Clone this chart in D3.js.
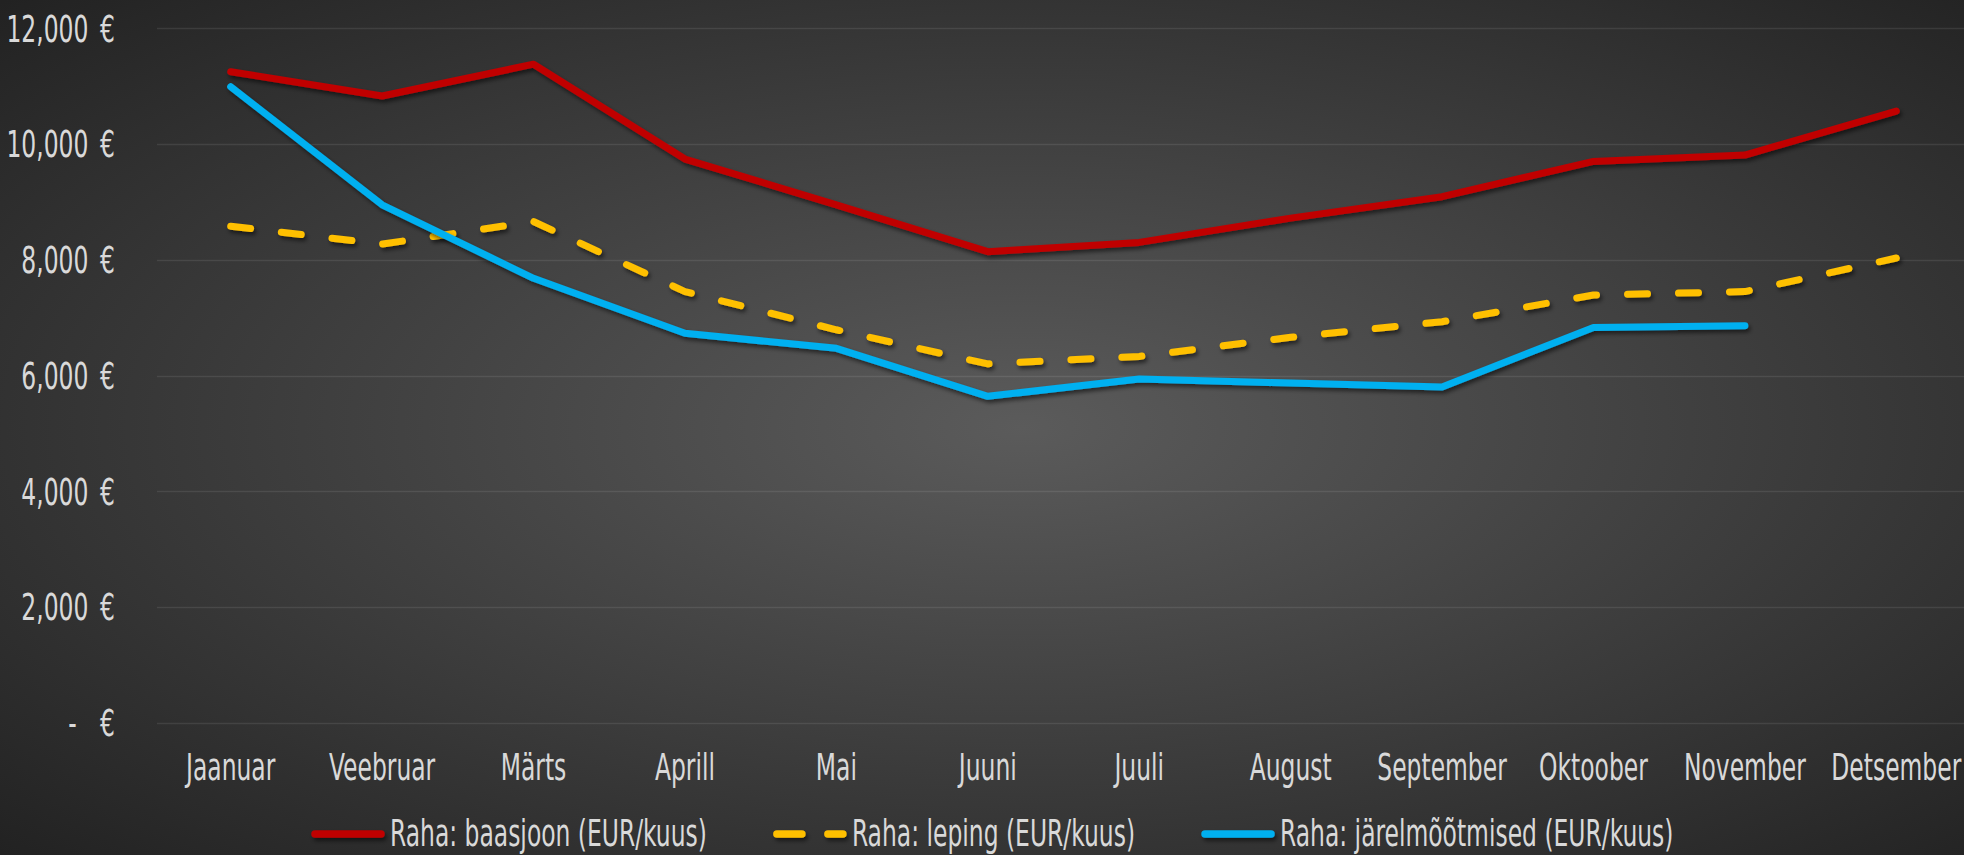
<!DOCTYPE html>
<html>
<head>
<meta charset="utf-8">
<script src="https://cdn.jsdelivr.net/npm/d3@7"></script>
<style>
  html, body { margin: 0; padding: 0; background: #2b2b2b; overflow: hidden; }
  svg { display: block; }
  text { fill: #d9d9d9; font-family: "Liberation Sans Narrow", "DejaVu Sans Condensed", "Roboto", sans-serif; }
</style>
</head>
<body>
<div id="chart"></div>
<script>
// Andmed
const months = ["Jaanuar", "Veebruar", "Märts", "Aprill", "Mai", "Juuni", "Juuli", "August", "September", "Oktoober", "November", "Detsember"];
const baasjoon = [11250, 10830, 11380, 9740, 8950, 8140, 8300, 8720, 9090, 9700, 9810, 10570];
const leping = [8580, 8270, 8660, 7450, 6790, 6200, 6330, 6660, 6930, 7390, 7450, 8030];
const jarelmootmised = [10990, 8950, 7680, 6730, 6470, 5640, 5940, 5870, 5800, 6830, 6860, null];
const seriesNames = ["Raha: baasjoon (EUR/kuus)", "Raha: leping (EUR/kuus)", "Raha: järelmõõtmised (EUR/kuus)"];
const seriesColors = ["#c00000", "#ffc000", "#00b0f0"];
const yTicks = [0, 2000, 4000, 6000, 8000, 10000, 12000];

const width = 1964;
const height = 855;
const fontSize = 37;

document.fonts.ready.then(draw);

function draw() {
    const svg = d3.select("#chart")
        .append("svg")
        .attr("width", width)
        .attr("height", height);

    const defs = svg.append("defs");

    // Taust: radiaalne gradient
    const grad = defs.append("radialGradient")
        .attr("id", "bg")
        .attr("cx", "0.52").attr("cy", "0.5")
        .attr("r", "0.72");
    grad.append("stop").attr("offset", "0").attr("stop-color", "#5b5b5b");
    grad.append("stop").attr("offset", "1").attr("stop-color", "#222222");

    // Vari - userSpaceOnUse, et ka horisontaalsed jooned saaksid varju
    const shadow = defs.append("filter")
        .attr("id", "shadow")
        .attr("filterUnits", "userSpaceOnUse")
        .attr("x", 0).attr("y", 0)
        .attr("width", width).attr("height", height);
    shadow.append("feDropShadow")
        .attr("dx", 2).attr("dy", 3)
        .attr("stdDeviation", 2)
        .attr("flood-color", "#000")
        .attr("flood-opacity", 0.55);

    svg.append("rect")
        .attr("width", width)
        .attr("height", height)
        .attr("fill", "url(#bg)");

    // Mõõda fondi laius, et tekst oleks kitsas nagu originaalis
    const probe = svg.append("text")
        .style("font-size", fontSize + "px")
        .text(seriesNames[0]);
    const kx = 317 / probe.node().getComputedTextLength();
    probe.remove();

    const x = d3.scalePoint()
        .domain(months)
        .range([155, 1972])
        .padding(0.5);

    const y = d3.scaleLinear()
        .domain([0, 12000])
        .range([722.7, 28.3]);

    // Ruudustik
    svg.append("g")
        .selectAll("line")
        .data(yTicks)
        .join("line")
        .attr("x1", 157)
        .attr("x2", width)
        .attr("y1", d => Math.round(y(d)) + 0.5)
        .attr("y2", d => Math.round(y(d)) + 0.5)
        .attr("stroke", "rgba(255,255,255,0.09)")
        .attr("stroke-width", 1.5);

    const fmt = d3.format(",");

    // Y-telje sildid
    svg.append("g")
        .selectAll("text")
        .data(yTicks)
        .join("text")
        .attr("transform", d => `translate(115,${y(d) + 13.4}) scale(${kx},1)`)
        .attr("text-anchor", "end")
        .style("font-size", fontSize + "px")
        .text(d => d === 0 ? "-\u2002\u2002€" : fmt(d) + "\u2002€");

    // X-telje sildid
    svg.append("g")
        .selectAll("text")
        .data(months)
        .join("text")
        .attr("transform", d => `translate(${x(d)},780) scale(${kx},1)`)
        .attr("text-anchor", "middle")
        .style("font-size", fontSize + "px")
        .text(d => d);

    const series = [baasjoon, leping, jarelmootmised];

    const line = d3.line()
        .defined(d => d[1] != null)
        .x(d => x(d[0]))
        .y(d => y(d[1]));

    svg.append("g")
        .selectAll("path")
        .data(series)
        .join("path")
        .attr("d", s => line(months.map((m, i) => [m, s[i]])))
        .attr("fill", "none")
        .attr("stroke", (s, i) => seriesColors[i])
        .attr("stroke-width", 7)
        .attr("stroke-linecap", "round")
        .attr("stroke-linejoin", "round")
        .attr("stroke-dasharray", (s, i) => i === 1 ? "20,31" : null)
        .attr("filter", "url(#shadow)");

    // Legend
    const legend = svg.append("g");
    const symLen = 66;
    const itemGap = 70;
    let lx = 315;
    seriesNames.forEach((name, i) => {
        const g = legend.append("g");
        g.append("line")
            .attr("x1", lx).attr("x2", lx + symLen)
            .attr("y1", 834).attr("y2", 834)
            .attr("stroke", seriesColors[i])
            .attr("stroke-width", 7.5)
            .attr("stroke-linecap", "round")
            .attr("stroke-dasharray", i === 1 ? "25,26" : null)
            .attr("filter", "url(#shadow)");
        const t = g.append("text")
            .attr("transform", `translate(${lx + symLen + 9},846) scale(${kx},1)`)
            .style("font-size", fontSize + "px")
            .text(name);
        const w = t.node().getComputedTextLength() * kx;
        lx += symLen + 9 + w + itemGap;
    });
}
</script>
</body>
</html>
